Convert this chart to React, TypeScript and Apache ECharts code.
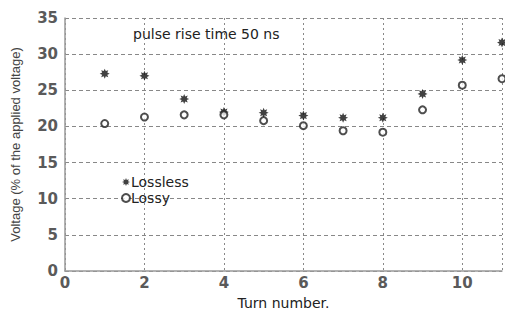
import React, { useEffect, useRef } from "react";
import * as echarts from "echarts";

const turns = [1, 2, 3, 4, 5, 6, 7, 8, 9, 10, 11];
const lossless = [27.3, 27.0, 23.8, 22.0, 21.9, 21.5, 21.2, 21.2, 24.5, 29.2, 31.6];
const lossy = [20.4, 21.3, 21.6, 21.6, 20.8, 20.1, 19.4, 19.2, 22.3, 25.7, 26.6];
const xTicks = [0, 2, 4, 6, 8, 10];
const yTicks = [0, 5, 10, 15, 20, 25, 30, 35];

function starPath(): string {
  const pts: string[] = [];
  const n = 8;
  for (let i = 0; i < n * 2; i++) {
    const r = i % 2 === 0 ? 10 : 5.5;
    const a = (Math.PI * i) / n - Math.PI / 2;
    pts.push(`${(10 + r * Math.cos(a)).toFixed(2)} ${(10 + r * Math.sin(a)).toFixed(2)}`);
  }
  return "path://M" + pts.join(" L") + " Z";
}

export default function App() {
  const ref = useRef<HTMLDivElement>(null);
  useEffect(() => {
    if (!ref.current) return;
    const chart = echarts.init(ref.current, undefined, { renderer: "svg" });
    const star = starPath();
    const sans = "'Liberation Sans', Arial, sans-serif";
    const wide = "'DejaVu Sans', sans-serif";
    chart.setOption({
      animation: false,
      backgroundColor: "#ffffff",
      textStyle: { fontFamily: sans },
      grid: { left: 65, right: 0, top: 18, bottom: 39, containLabel: false },
      xAxis: {
        type: "value",
        min: 0,
        max: 11,
        interval: 2,
        name: "Turn number.",
        nameLocation: "middle",
        nameGap: 25,
        nameTextStyle: { color: "#222", fontSize: 14, fontFamily: wide },
        axisLine: { show: true, lineStyle: { color: "#999", width: 1.5 } },
        axisTick: { show: false },
        axisLabel: {
          color: "#5a5a5a",
          fontSize: 15,
          fontWeight: "bold",
          fontFamily: wide,
          margin: 4,
          formatter: (v: number) => (xTicks.includes(v) ? String(v) : ""),
        },
        splitLine: { show: true, lineStyle: { color: "#888", type: [2, 3], width: 1 } },
      },
      yAxis: {
        type: "value",
        min: 0,
        max: 35,
        interval: 5,
        name: "Voltage (% of the applied voltage)",
        nameLocation: "middle",
        nameGap: 43,
        nameTextStyle: { color: "#444", fontSize: 13, fontFamily: sans },
        axisLine: { show: true, lineStyle: { color: "#999", width: 1.5 } },
        axisTick: { show: false },
        axisLabel: {
          color: "#5a5a5a",
          fontSize: 15,
          fontWeight: "bold",
          fontFamily: wide,
          margin: 7,
          formatter: (v: number) => (yTicks.includes(v) ? String(v) : ""),
        },
        splitLine: { show: true, lineStyle: { color: "#888", type: [4, 3], width: 1 } },
      },
      legend: {
        left: 116,
        top: 170,
        orient: "vertical",
        itemGap: 2,
        itemWidth: 8,
        itemHeight: 8,
        textStyle: { color: "#222", fontSize: 14, fontFamily: wide, padding: [0, 0, 0, -4] },
        data: [
          { name: "Lossless", icon: star },
          { name: "Lossy", icon: "emptyCircle", itemStyle: { borderWidth: 1.2 } },
        ],
      },
      graphic: [
        {
          type: "text",
          left: 133,
          top: 27,
          style: { text: "pulse rise time 50 ns", fill: "#222", fontSize: 14, fontFamily: wide },
        },
      ],
      series: [
        {
          name: "Lossless",
          type: "scatter",
          symbol: star,
          symbolSize: 10,
          itemStyle: { color: "#111" },
          data: turns.map((t, i) => [t, lossless[i]]),
        },
        {
          name: "Lossy",
          type: "scatter",
          symbol: "emptyCircle",
          symbolSize: 7,
          itemStyle: { color: "#222", borderColor: "#222", borderWidth: 1.5 },
          data: turns.map((t, i) => [t, lossy[i]]),
        },
      ],
    });
    return () => chart.dispose();
  }, []);
  return <div ref={ref} style={{ width: 505, height: 315, position: "fixed", left: 0, top: 0 }} />;
}
